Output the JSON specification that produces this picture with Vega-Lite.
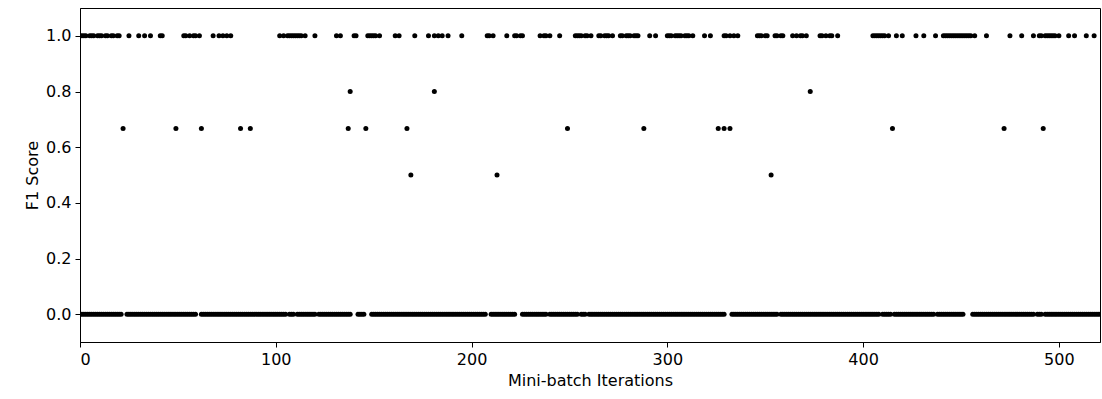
{
"$schema":"https://vega.github.io/schema/vega-lite/v6.json",
"width":1020,"height":334,
"autosize":{"type":"none"},
"padding":{"left":80,"top":8,"right":2,"bottom":57},
"config":{"view":{"stroke":"black","strokeWidth":1},"axis":{"grid":false,"domainColor":"black","tickColor":"black","labelColor":"black","titleColor":"black","labelFont":"DejaVu Sans","titleFont":"DejaVu Sans","labelFontSize":16,"titleFontSize":16,"titleFontWeight":"normal","tickSize":5,"labelPadding":4}},
"datasets":{"pts":[
{"x":0,"y":1},{"x":1,"y":1},{"x":2,"y":1},{"x":3,"y":1},{"x":5,"y":1},{"x":6,"y":1},{"x":7,"y":1},{"x":9,"y":1},{"x":10,"y":1},{"x":11,"y":1},{"x":13,"y":1},{"x":14,"y":1},{"x":16,"y":1},{"x":17,"y":1},{"x":19,"y":1},{"x":20,"y":1},{"x":25,"y":1},{"x":30,"y":1},{"x":33,"y":1},{"x":36,"y":1},{"x":41,"y":1},{"x":42,"y":1},{"x":53,"y":1},{"x":54,"y":1},{"x":56,"y":1},{"x":58,"y":1},{"x":59,"y":1},{"x":61,"y":1},{"x":68,"y":1},{"x":71,"y":1},{"x":73,"y":1},{"x":75,"y":1},{"x":77,"y":1},
{"x":102,"y":1},{"x":104,"y":1},{"x":106,"y":1},{"x":107,"y":1},{"x":108,"y":1},{"x":109,"y":1},{"x":110,"y":1},{"x":111,"y":1},{"x":112,"y":1},{"x":113,"y":1},{"x":115,"y":1},{"x":120,"y":1},{"x":131,"y":1},{"x":133,"y":1},{"x":140,"y":1},{"x":141,"y":1},{"x":147,"y":1},{"x":148,"y":1},{"x":149,"y":1},{"x":150,"y":1},{"x":151,"y":1},{"x":153,"y":1},{"x":161,"y":1},{"x":163,"y":1},{"x":171,"y":1},{"x":178,"y":1},{"x":181,"y":1},{"x":183,"y":1},{"x":185,"y":1},{"x":188,"y":1},{"x":195,"y":1},
{"x":208,"y":1},{"x":209,"y":1},{"x":211,"y":1},{"x":218,"y":1},{"x":222,"y":1},{"x":223,"y":1},{"x":225,"y":1},{"x":226,"y":1},{"x":235,"y":1},{"x":237,"y":1},{"x":238,"y":1},{"x":240,"y":1},{"x":245,"y":1},{"x":253,"y":1},{"x":254,"y":1},{"x":255,"y":1},{"x":256,"y":1},{"x":258,"y":1},{"x":259,"y":1},{"x":261,"y":1},{"x":265,"y":1},{"x":266,"y":1},{"x":268,"y":1},{"x":269,"y":1},{"x":270,"y":1},{"x":272,"y":1},{"x":276,"y":1},{"x":277,"y":1},{"x":279,"y":1},{"x":280,"y":1},{"x":281,"y":1},{"x":283,"y":1},{"x":284,"y":1},{"x":285,"y":1},{"x":291,"y":1},{"x":294,"y":1},
{"x":300,"y":1},{"x":301,"y":1},{"x":302,"y":1},{"x":304,"y":1},{"x":305,"y":1},{"x":306,"y":1},{"x":307,"y":1},{"x":309,"y":1},{"x":310,"y":1},{"x":311,"y":1},{"x":313,"y":1},{"x":319,"y":1},{"x":322,"y":1},{"x":329,"y":1},{"x":330,"y":1},{"x":332,"y":1},{"x":334,"y":1},{"x":336,"y":1},{"x":346,"y":1},{"x":347,"y":1},{"x":348,"y":1},{"x":350,"y":1},{"x":351,"y":1},{"x":355,"y":1},{"x":356,"y":1},{"x":358,"y":1},{"x":359,"y":1},{"x":364,"y":1},{"x":366,"y":1},{"x":368,"y":1},{"x":369,"y":1},{"x":371,"y":1},{"x":378,"y":1},{"x":379,"y":1},{"x":381,"y":1},{"x":383,"y":1},{"x":384,"y":1},{"x":387,"y":1},
{"x":405,"y":1},{"x":406,"y":1},{"x":407,"y":1},{"x":408,"y":1},{"x":409,"y":1},{"x":410,"y":1},{"x":411,"y":1},{"x":413,"y":1},{"x":417,"y":1},{"x":420,"y":1},{"x":427,"y":1},{"x":431,"y":1},{"x":437,"y":1},{"x":441,"y":1},{"x":442,"y":1},{"x":443,"y":1},{"x":444,"y":1},{"x":445,"y":1},{"x":446,"y":1},{"x":447,"y":1},{"x":448,"y":1},{"x":449,"y":1},{"x":450,"y":1},{"x":451,"y":1},{"x":452,"y":1},{"x":453,"y":1},{"x":454,"y":1},{"x":455,"y":1},{"x":457,"y":1},{"x":463,"y":1},{"x":475,"y":1},{"x":481,"y":1},{"x":487,"y":1},{"x":490,"y":1},{"x":491,"y":1},{"x":493,"y":1},{"x":494,"y":1},{"x":495,"y":1},{"x":496,"y":1},{"x":497,"y":1},{"x":498,"y":1},{"x":500,"y":1},{"x":505,"y":1},{"x":508,"y":1},{"x":514,"y":1},{"x":518,"y":1},
{"x":22,"y":0.6667},{"x":49,"y":0.6667},{"x":62,"y":0.6667},{"x":82,"y":0.6667},{"x":87,"y":0.6667},{"x":137,"y":0.6667},{"x":138,"y":0.8},{"x":146,"y":0.6667},{"x":167,"y":0.6667},{"x":169,"y":0.5},{"x":181,"y":0.8},{"x":213,"y":0.5},{"x":249,"y":0.6667},{"x":288,"y":0.6667},{"x":326,"y":0.6667},{"x":329,"y":0.6667},{"x":332,"y":0.6667},{"x":353,"y":0.5},{"x":373,"y":0.8},{"x":415,"y":0.6667},{"x":472,"y":0.6667},{"x":492,"y":0.6667},
{"x":0,"y":0},{"x":1,"y":0},{"x":2,"y":0},{"x":3,"y":0},{"x":4,"y":0},{"x":5,"y":0},{"x":6,"y":0},{"x":7,"y":0},{"x":8,"y":0},{"x":9,"y":0},{"x":10,"y":0},{"x":11,"y":0},{"x":12,"y":0},{"x":13,"y":0},{"x":14,"y":0},{"x":15,"y":0},{"x":16,"y":0},{"x":17,"y":0},{"x":18,"y":0},{"x":19,"y":0},{"x":20,"y":0},{"x":21,"y":0},
{"x":24,"y":0},{"x":25,"y":0},{"x":26,"y":0},{"x":27,"y":0},{"x":28,"y":0},{"x":29,"y":0},{"x":30,"y":0},{"x":31,"y":0},{"x":32,"y":0},{"x":33,"y":0},{"x":34,"y":0},{"x":35,"y":0},{"x":36,"y":0},{"x":37,"y":0},{"x":38,"y":0},{"x":39,"y":0},{"x":40,"y":0},{"x":41,"y":0},{"x":42,"y":0},{"x":43,"y":0},{"x":44,"y":0},{"x":45,"y":0},{"x":46,"y":0},{"x":47,"y":0},{"x":48,"y":0},{"x":49,"y":0},{"x":50,"y":0},{"x":51,"y":0},{"x":52,"y":0},{"x":53,"y":0},{"x":54,"y":0},{"x":55,"y":0},{"x":56,"y":0},{"x":57,"y":0},{"x":58,"y":0},{"x":59,"y":0},
{"x":62,"y":0},{"x":63,"y":0},{"x":64,"y":0},{"x":65,"y":0},{"x":66,"y":0},{"x":67,"y":0},{"x":68,"y":0},{"x":69,"y":0},{"x":70,"y":0},{"x":71,"y":0},{"x":72,"y":0},{"x":73,"y":0},{"x":74,"y":0},{"x":75,"y":0},{"x":76,"y":0},{"x":77,"y":0},{"x":78,"y":0},{"x":79,"y":0},{"x":80,"y":0},{"x":81,"y":0},{"x":82,"y":0},{"x":83,"y":0},{"x":84,"y":0},{"x":85,"y":0},{"x":86,"y":0},{"x":87,"y":0},{"x":88,"y":0},{"x":89,"y":0},{"x":90,"y":0},{"x":91,"y":0},{"x":92,"y":0},{"x":93,"y":0},{"x":94,"y":0},{"x":95,"y":0},{"x":96,"y":0},{"x":97,"y":0},{"x":98,"y":0},{"x":99,"y":0},{"x":100,"y":0},{"x":101,"y":0},{"x":102,"y":0},{"x":103,"y":0},{"x":104,"y":0},{"x":105,"y":0},
{"x":107,"y":0},{"x":108,"y":0},{"x":109,"y":0},{"x":111,"y":0},{"x":112,"y":0},{"x":113,"y":0},{"x":114,"y":0},{"x":115,"y":0},{"x":116,"y":0},{"x":117,"y":0},{"x":118,"y":0},{"x":119,"y":0},{"x":120,"y":0},
{"x":122,"y":0},{"x":123,"y":0},{"x":124,"y":0},{"x":125,"y":0},{"x":126,"y":0},{"x":127,"y":0},{"x":128,"y":0},{"x":129,"y":0},{"x":130,"y":0},{"x":131,"y":0},{"x":132,"y":0},{"x":133,"y":0},{"x":134,"y":0},{"x":135,"y":0},{"x":136,"y":0},{"x":137,"y":0},{"x":138,"y":0},
{"x":142,"y":0},{"x":143,"y":0},{"x":144,"y":0},{"x":145,"y":0},
{"x":149,"y":0},{"x":150,"y":0},{"x":151,"y":0},{"x":152,"y":0},{"x":153,"y":0},{"x":154,"y":0},{"x":155,"y":0},{"x":156,"y":0},{"x":157,"y":0},{"x":158,"y":0},{"x":159,"y":0},{"x":160,"y":0},{"x":161,"y":0},{"x":162,"y":0},{"x":163,"y":0},{"x":164,"y":0},{"x":165,"y":0},{"x":166,"y":0},{"x":167,"y":0},{"x":168,"y":0},{"x":169,"y":0},{"x":170,"y":0},{"x":171,"y":0},{"x":172,"y":0},{"x":173,"y":0},{"x":174,"y":0},{"x":175,"y":0},{"x":176,"y":0},{"x":177,"y":0},{"x":178,"y":0},{"x":179,"y":0},{"x":180,"y":0},{"x":181,"y":0},{"x":182,"y":0},{"x":183,"y":0},{"x":184,"y":0},{"x":185,"y":0},{"x":186,"y":0},{"x":187,"y":0},{"x":188,"y":0},{"x":189,"y":0},{"x":190,"y":0},{"x":191,"y":0},{"x":192,"y":0},{"x":193,"y":0},{"x":194,"y":0},{"x":195,"y":0},{"x":196,"y":0},{"x":197,"y":0},{"x":198,"y":0},{"x":199,"y":0},{"x":200,"y":0},{"x":201,"y":0},{"x":202,"y":0},{"x":203,"y":0},{"x":204,"y":0},{"x":205,"y":0},{"x":206,"y":0},{"x":207,"y":0},
{"x":210,"y":0},{"x":211,"y":0},{"x":212,"y":0},{"x":213,"y":0},{"x":214,"y":0},{"x":215,"y":0},{"x":216,"y":0},{"x":217,"y":0},{"x":218,"y":0},{"x":219,"y":0},{"x":220,"y":0},{"x":221,"y":0},{"x":222,"y":0},
{"x":226,"y":0},{"x":227,"y":0},{"x":228,"y":0},{"x":229,"y":0},{"x":230,"y":0},{"x":231,"y":0},{"x":232,"y":0},{"x":233,"y":0},{"x":234,"y":0},{"x":235,"y":0},{"x":236,"y":0},{"x":237,"y":0},{"x":238,"y":0},
{"x":240,"y":0},{"x":241,"y":0},{"x":242,"y":0},{"x":243,"y":0},{"x":244,"y":0},{"x":245,"y":0},{"x":246,"y":0},{"x":247,"y":0},{"x":248,"y":0},{"x":249,"y":0},{"x":250,"y":0},{"x":251,"y":0},{"x":252,"y":0},{"x":253,"y":0},{"x":254,"y":0},
{"x":256,"y":0},{"x":257,"y":0},{"x":258,"y":0},
{"x":260,"y":0},{"x":261,"y":0},{"x":262,"y":0},{"x":263,"y":0},{"x":264,"y":0},{"x":265,"y":0},{"x":266,"y":0},{"x":267,"y":0},{"x":268,"y":0},{"x":269,"y":0},{"x":270,"y":0},{"x":271,"y":0},{"x":272,"y":0},{"x":273,"y":0},{"x":274,"y":0},{"x":275,"y":0},{"x":276,"y":0},{"x":277,"y":0},{"x":278,"y":0},{"x":279,"y":0},{"x":280,"y":0},{"x":281,"y":0},{"x":282,"y":0},{"x":283,"y":0},{"x":284,"y":0},{"x":285,"y":0},{"x":286,"y":0},{"x":287,"y":0},{"x":288,"y":0},{"x":289,"y":0},{"x":290,"y":0},{"x":291,"y":0},{"x":292,"y":0},{"x":293,"y":0},{"x":294,"y":0},{"x":295,"y":0},{"x":296,"y":0},{"x":297,"y":0},{"x":298,"y":0},{"x":299,"y":0},{"x":300,"y":0},{"x":301,"y":0},{"x":302,"y":0},{"x":303,"y":0},{"x":304,"y":0},{"x":305,"y":0},{"x":306,"y":0},{"x":307,"y":0},{"x":308,"y":0},{"x":309,"y":0},{"x":310,"y":0},{"x":311,"y":0},{"x":312,"y":0},{"x":313,"y":0},{"x":314,"y":0},{"x":315,"y":0},{"x":316,"y":0},{"x":317,"y":0},{"x":318,"y":0},{"x":319,"y":0},{"x":320,"y":0},{"x":321,"y":0},{"x":322,"y":0},{"x":323,"y":0},{"x":324,"y":0},{"x":325,"y":0},{"x":326,"y":0},{"x":327,"y":0},{"x":328,"y":0},{"x":329,"y":0},
{"x":333,"y":0},{"x":334,"y":0},{"x":335,"y":0},{"x":336,"y":0},{"x":337,"y":0},{"x":338,"y":0},{"x":339,"y":0},{"x":340,"y":0},{"x":341,"y":0},{"x":342,"y":0},{"x":343,"y":0},{"x":344,"y":0},{"x":345,"y":0},{"x":346,"y":0},{"x":347,"y":0},{"x":348,"y":0},{"x":349,"y":0},{"x":350,"y":0},{"x":351,"y":0},{"x":352,"y":0},{"x":353,"y":0},{"x":354,"y":0},{"x":355,"y":0},{"x":356,"y":0},
{"x":358,"y":0},{"x":359,"y":0},{"x":360,"y":0},{"x":361,"y":0},{"x":362,"y":0},{"x":363,"y":0},{"x":364,"y":0},{"x":365,"y":0},{"x":366,"y":0},{"x":367,"y":0},{"x":368,"y":0},{"x":369,"y":0},{"x":370,"y":0},{"x":371,"y":0},{"x":372,"y":0},{"x":373,"y":0},{"x":374,"y":0},{"x":375,"y":0},{"x":376,"y":0},{"x":377,"y":0},{"x":378,"y":0},{"x":379,"y":0},{"x":380,"y":0},{"x":381,"y":0},{"x":382,"y":0},{"x":383,"y":0},{"x":384,"y":0},{"x":385,"y":0},{"x":386,"y":0},{"x":387,"y":0},{"x":388,"y":0},{"x":389,"y":0},{"x":390,"y":0},{"x":391,"y":0},{"x":392,"y":0},{"x":393,"y":0},{"x":394,"y":0},{"x":395,"y":0},{"x":396,"y":0},{"x":397,"y":0},{"x":398,"y":0},{"x":399,"y":0},{"x":400,"y":0},{"x":401,"y":0},{"x":402,"y":0},{"x":403,"y":0},{"x":404,"y":0},{"x":405,"y":0},{"x":406,"y":0},{"x":407,"y":0},{"x":408,"y":0},
{"x":410,"y":0},{"x":411,"y":0},{"x":412,"y":0},{"x":413,"y":0},{"x":414,"y":0},
{"x":416,"y":0},{"x":417,"y":0},{"x":418,"y":0},{"x":419,"y":0},{"x":420,"y":0},{"x":421,"y":0},{"x":422,"y":0},{"x":423,"y":0},{"x":424,"y":0},{"x":425,"y":0},{"x":426,"y":0},{"x":427,"y":0},{"x":428,"y":0},{"x":429,"y":0},{"x":430,"y":0},{"x":431,"y":0},{"x":432,"y":0},{"x":433,"y":0},{"x":434,"y":0},{"x":435,"y":0},{"x":436,"y":0},
{"x":438,"y":0},{"x":439,"y":0},{"x":440,"y":0},{"x":441,"y":0},{"x":442,"y":0},{"x":443,"y":0},{"x":444,"y":0},{"x":445,"y":0},{"x":446,"y":0},{"x":447,"y":0},{"x":448,"y":0},{"x":449,"y":0},{"x":450,"y":0},{"x":451,"y":0},
{"x":456,"y":0},{"x":457,"y":0},{"x":458,"y":0},{"x":459,"y":0},{"x":460,"y":0},{"x":461,"y":0},{"x":462,"y":0},{"x":463,"y":0},{"x":464,"y":0},{"x":465,"y":0},{"x":466,"y":0},{"x":467,"y":0},{"x":468,"y":0},{"x":469,"y":0},{"x":470,"y":0},{"x":471,"y":0},{"x":472,"y":0},{"x":473,"y":0},{"x":474,"y":0},{"x":475,"y":0},{"x":476,"y":0},{"x":477,"y":0},{"x":478,"y":0},{"x":479,"y":0},{"x":480,"y":0},{"x":481,"y":0},{"x":482,"y":0},{"x":483,"y":0},{"x":484,"y":0},{"x":485,"y":0},{"x":486,"y":0},{"x":487,"y":0},
{"x":489,"y":0},{"x":490,"y":0},{"x":491,"y":0},
{"x":493,"y":0},{"x":494,"y":0},{"x":495,"y":0},{"x":496,"y":0},{"x":497,"y":0},{"x":498,"y":0},{"x":499,"y":0},{"x":500,"y":0},{"x":501,"y":0},{"x":502,"y":0},{"x":503,"y":0},{"x":504,"y":0},{"x":505,"y":0},{"x":506,"y":0},{"x":507,"y":0},{"x":508,"y":0},{"x":509,"y":0},{"x":510,"y":0},{"x":511,"y":0},{"x":512,"y":0},{"x":513,"y":0},{"x":514,"y":0},{"x":515,"y":0},{"x":516,"y":0},{"x":517,"y":0},{"x":518,"y":0},{"x":519,"y":0},{"x":520,"y":0},{"x":521,"y":0}
]},
"data":{"name":"pts"},
"mark":{"type":"point","filled":true,"color":"black","size":25,"opacity":1,"clip":true},
"encoding":{
"x":{"field":"x","type":"quantitative","scale":{"domain":[0,521],"nice":false,"zero":false},"axis":{"title":"Mini-batch Iterations","values":[0,100,200,300,400,500],"titlePadding":5}},
"y":{"field":"y","type":"quantitative","scale":{"domain":[-0.1,1.1],"nice":false,"zero":false},"axis":{"title":"F1 Score","values":[0,0.2,0.4,0.6,0.8,1],"format":".1f","titlePadding":5}}
}
}
